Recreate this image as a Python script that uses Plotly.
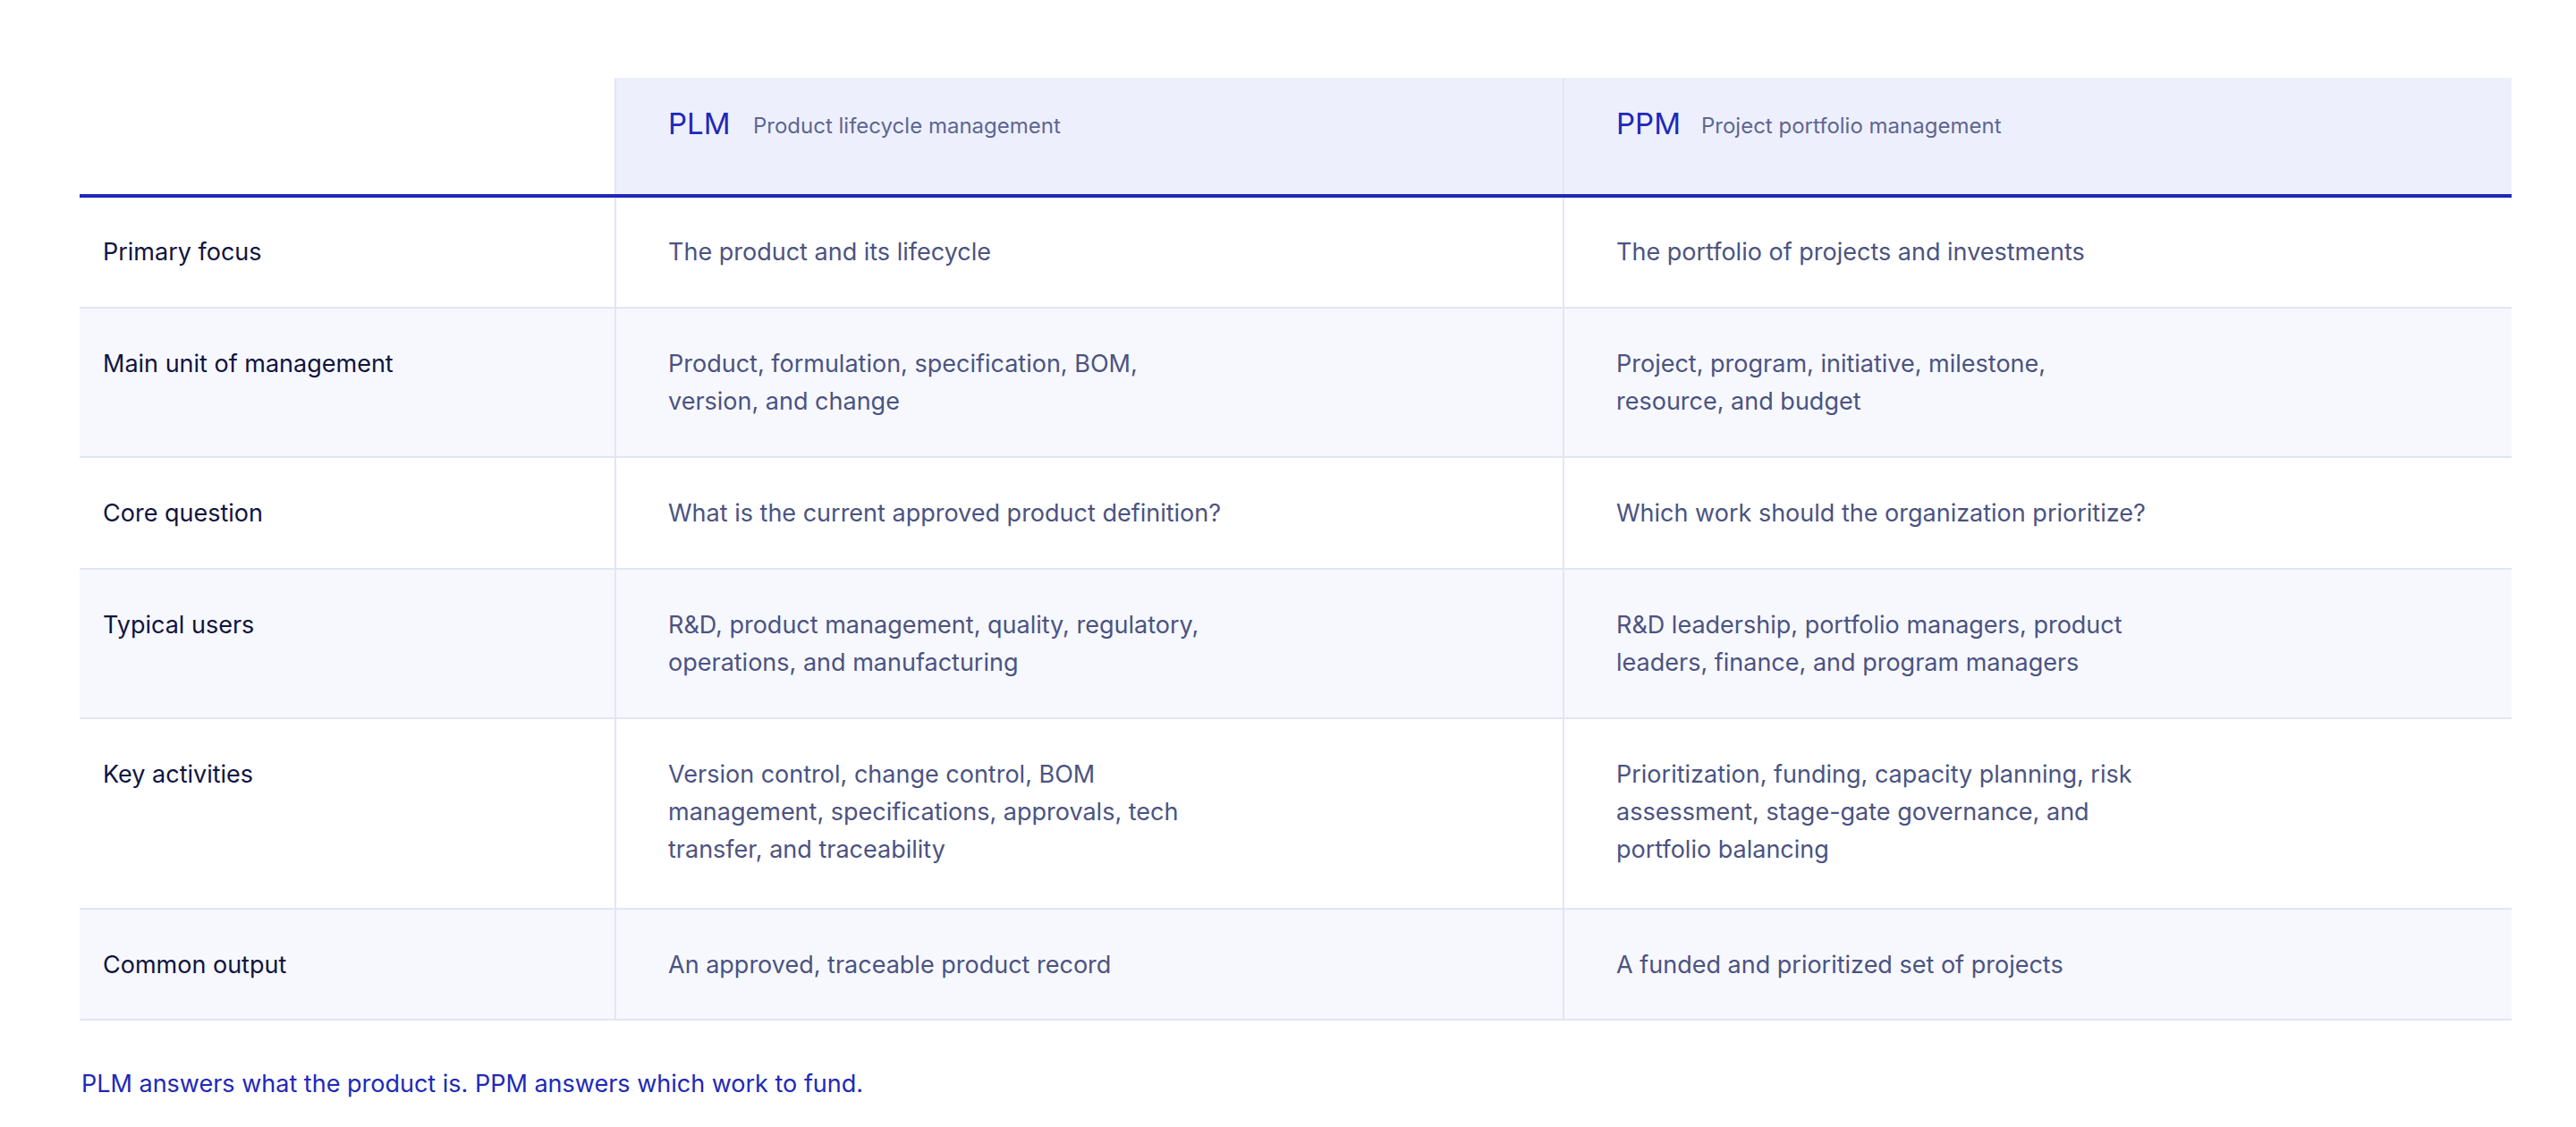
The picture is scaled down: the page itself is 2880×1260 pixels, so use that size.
import plotly.graph_objects as go

row_labels = ["Primary focus", "Main unit of management", "Core question", "Typical users", "Key activities", "Common output"]
plm_values = ["The product and its lifecycle",
              "Product, formulation, specification, BOM,<br>version, and change",
              "What is the current approved product definition?",
              "R&D, product management, quality, regulatory,<br>operations, and manufacturing",
              "Version control, change control, BOM<br>management, specifications, approvals, tech<br>transfer, and traceability",
              "An approved, traceable product record"]
ppm_values = ["The portfolio of projects and investments",
              "Project, program, initiative, milestone,<br>resource, and budget",
              "Which work should the organization prioritize?",
              "R&D leadership, portfolio managers, product<br>leaders, finance, and program managers",
              "Prioritization, funding, capacity planning, risk<br>assessment, stage-gate governance, and<br>portfolio balancing",
              "A funded and prioritized set of projects"]
headers = [("PLM", "Product lifecycle management"), ("PPM", "Project portfolio management")]
footer = "PLM answers what the product is. PPM answers which work to fund."

W, H = 2880, 1260
L, C1, C2, R = 81, 680, 1740, 2800
HT, HB = 79, 211
row_edges = [211, 336, 503, 628, 795, 1008, 1132]
FONT = "Inter, Lato, sans-serif"
NAVY = "#2128B8"; LABEL = "#10143F"; BODY = "#4B5382"; SUB = "#5E6693"; GRID = "#E1E6F5"

shapes, ann = [], []
shapes.append(dict(type="rect", x0=C1, x1=R, y0=HT, y1=HB, fillcolor="#EDF0FC", line_width=0, layer="below"))
for i in range(len(row_labels)):
    y0, y1 = row_edges[i], row_edges[i + 1]
    if i % 2 == 1:
        shapes.append(dict(type="rect", x0=L, x1=R, y0=y0, y1=y1, fillcolor="#F7F8FD", line_width=0, layer="below"))
    if i > 0:
        shapes.append(dict(type="line", x0=L, x1=R, y0=y0, y1=y0, line=dict(color=GRID, width=2)))
shapes.append(dict(type="line", x0=L, x1=R, y0=row_edges[-1], y1=row_edges[-1], line=dict(color=GRID, width=2)))
for x in (C1, C2):
    shapes.append(dict(type="line", x0=x, x1=x, y0=HT, y1=row_edges[-1], line=dict(color=GRID, width=2)))
shapes.append(dict(type="line", x0=L, x1=R, y0=HB, y1=HB, line=dict(color=NAVY, width=4)))

def txt(x, y, s, size, color):
    ann.append(dict(x=x, y=y, text=s, showarrow=False, xanchor="left", yanchor="middle",
                    font=dict(family=FONT, size=size, color=color)))

for (t, sub), x in zip(headers, (737, 1797)):
    txt(x, 130, t, 33, NAVY)
    txt(x + 95, 132, sub, 24, SUB)

for i, lab in enumerate(row_labels):
    ytop = row_edges[i] + 62
    txt(105, ytop, lab, 27, LABEL)
    for x, val in ((737, plm_values[i]), (1797, ppm_values[i])):
        for k, line in enumerate(val.split("<br>")):
            txt(x, ytop + 42 * k, line, 27, BODY)

txt(81, 1203, footer, 27, NAVY)

fig = go.Figure()
fig.update_layout(width=W, height=H, margin=dict(l=0, r=0, t=0, b=0),
                  paper_bgcolor="white", plot_bgcolor="white", shapes=shapes, annotations=ann,
                  xaxis=dict(range=[0, W], visible=False, fixedrange=True),
                  yaxis=dict(range=[H, 0], visible=False, fixedrange=True), showlegend=False)
fig.write_html("out.html")
